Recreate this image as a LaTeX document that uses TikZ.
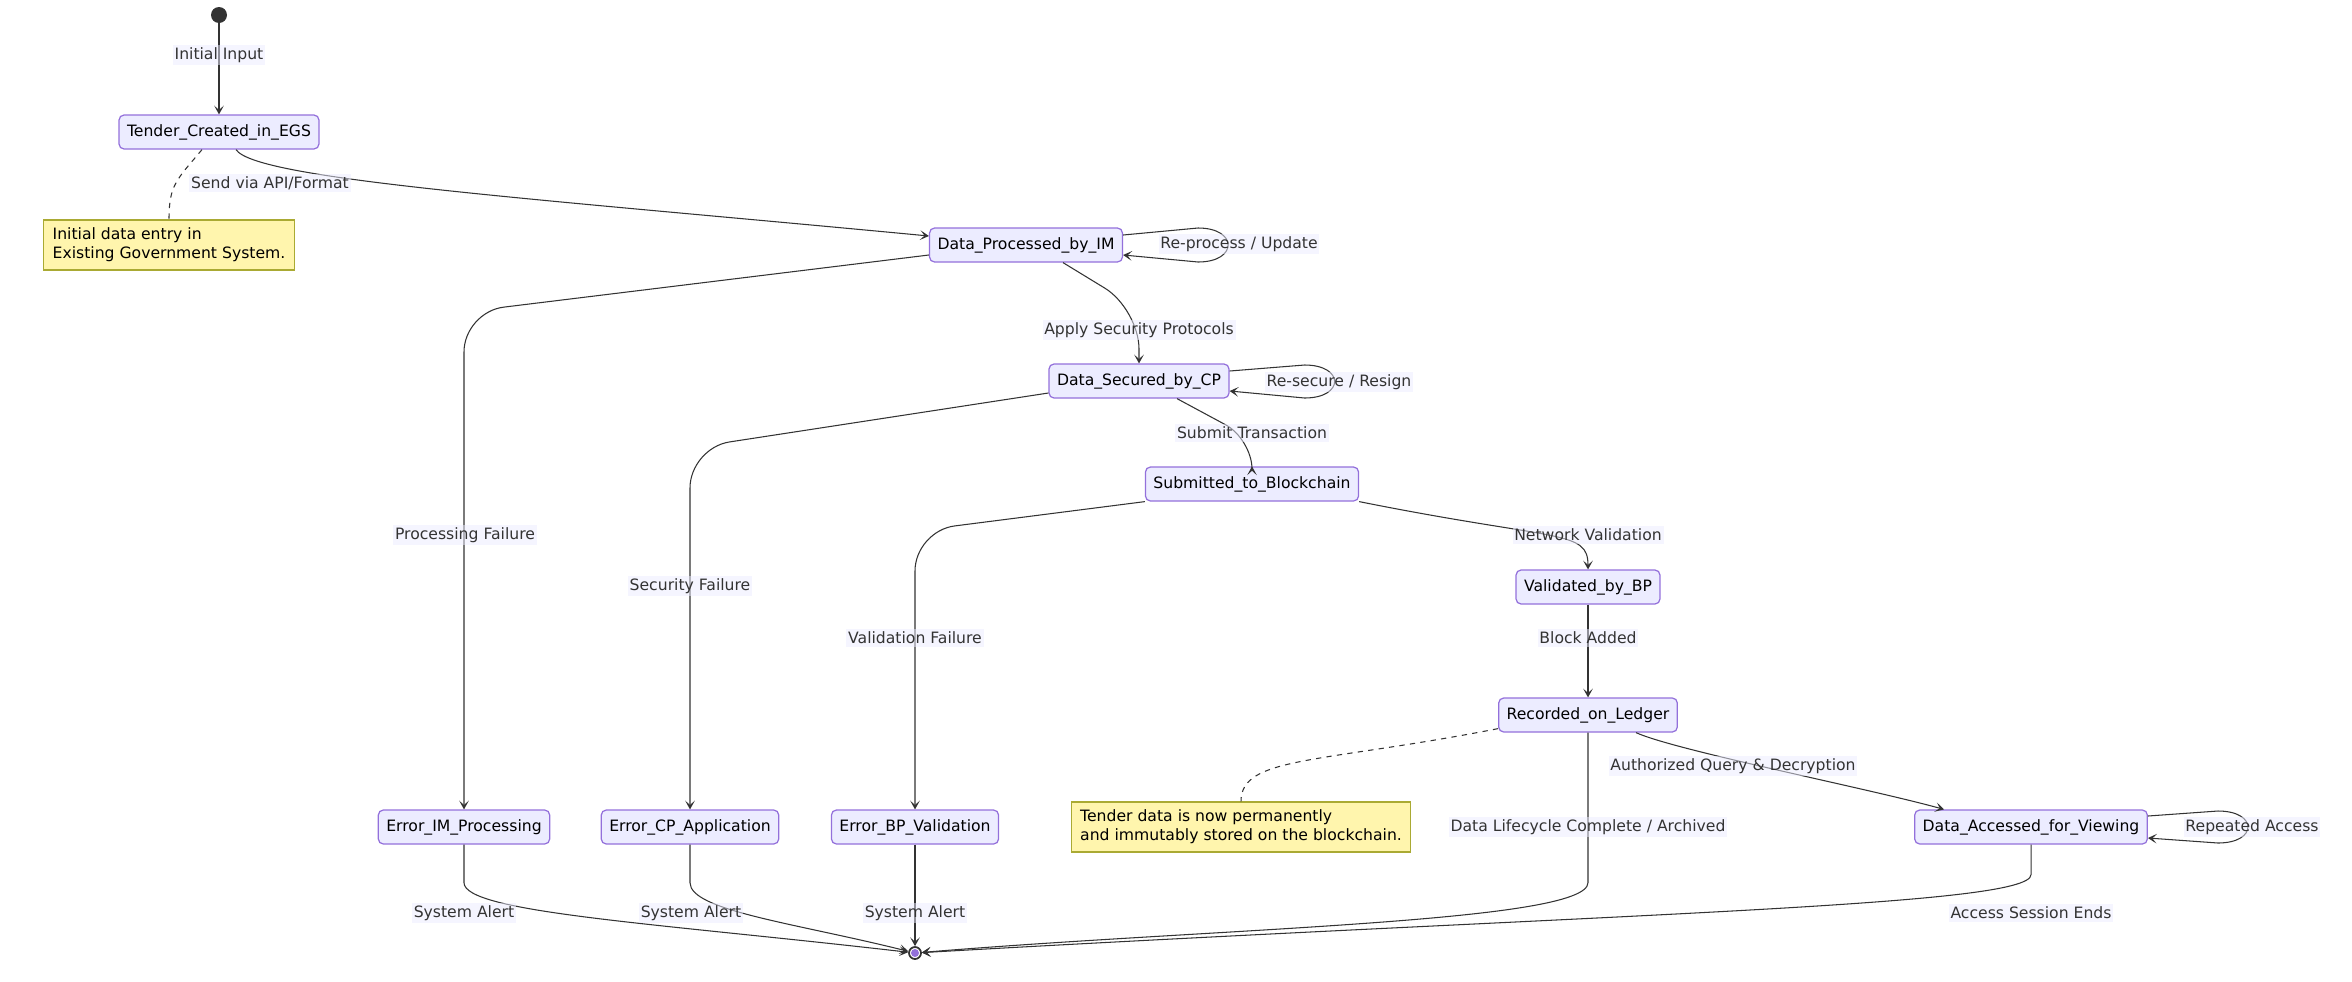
\documentclass[tikz,border=0pt]{standalone}
\usepackage{fontspec}
\setmainfont{DejaVu Sans}
\usepackage{tikz}
\usetikzlibrary{arrows.meta}

\definecolor{stfill}{HTML}{ECECFF}
\definecolor{stline}{HTML}{9370DB}
\definecolor{notefill}{HTML}{FFF5AD}
\definecolor{noteline}{HTML}{AAAA33}
\definecolor{edgecol}{HTML}{333333}

\begin{document}
\begin{tikzpicture}[x=0.02cm, y=-0.02cm, font=\fontsize{8.9}{10.8}\selectfont,
    state/.style={draw=stline, fill=stfill, line width=0.7pt, rounded corners=0.1cm, inner xsep=0.16cm, inner ysep=0pt, minimum height=0.68cm, text=black},
    note/.style={draw=noteline, fill=notefill, line width=0.7pt, align=left, inner xsep=0.18cm, inner ysep=0.16cm, text=black},
    lbl/.style={fill=stfill, fill opacity=0.5, text opacity=1, text=edgecol, inner xsep=1pt, inner ysep=1.5pt},
    edge/.style={draw=edgecol, line width=0.6pt, -{Stealth[length=5pt,width=5.5pt,inset=2.5pt]}},
    link/.style={draw=edgecol, line width=0.6pt, dash pattern=on 3pt off 3pt}]
    \useasboundingbox (0,0) rectangle (2352,981);
    % states
    \node (start) [circle, fill=edgecol, minimum size=0.32cm, inner sep=0pt] at (219,15) {};
    \node (tender) [state] at (219,132) {Tender\_Created\_in\_EGS};
    \node (dpim) [state] at (1026,245) {Data\_Processed\_by\_IM};
    \node (dscp) [state] at (1139,381) {Data\_Secured\_by\_CP};
    \node (stb) [state] at (1252,484) {Submitted\_to\_Blockchain};
    \node (vbp) [state] at (1588,587) {Validated\_by\_BP};
    \node (rol) [state] at (1588,715) {Recorded\_on\_Ledger};
    \node (dav) [state] at (2031,827) {Data\_Accessed\_for\_Viewing};
    \node (errim) [state] at (464,827) {Error\_IM\_Processing};
    \node (errcp) [state] at (690,827) {Error\_CP\_Application};
    \node (errbp) [state] at (915,827) {Error\_BP\_Validation};
    \node (endst) [circle, draw=edgecol, line width=1pt, fill=white, minimum size=0.24cm, inner sep=0pt] at (915,953) {};
    \fill[stline] (endst) circle (0.08cm);
    % notes
    \node (note1) [note] at (169,245) {Initial data entry in\\Existing Government System.};
    \node (note2) [note] at (1241,827) {Tender data is now permanently\\and immutably stored on the blockchain.};
    \draw[link] ([xshift=-0.34cm]tender.south) .. controls +(-25,30) and +(0,-35) .. (note1.north);
    \draw[link] ([yshift=0.08cm]rol.south west) .. controls +(-180,35) and +(0,-45) .. (note2.north);

    % transitions
    \draw[edge] (start) -- (tender);
    \draw[edge] ([xshift=0.34cm]tender.south) .. controls +(20,30) and +(-400,-38) .. ([yshift=0.18cm]dpim.west);
    \draw[edge] ([yshift=0.2cm]dpim.east) -- ++(75,-7) .. controls +(40,0) and +(40,0) .. ++(0,34) -- ([yshift=-0.2cm]dpim.east);
    \draw[edge, rounded corners=0.8cm] ([yshift=-0.2cm]dpim.west) -- (errim.north |- 0,312) -- (errim.north);
    \draw[edge, rounded corners=0.8cm] ([xshift=0.74cm]dpim.south) -- (dscp.north |- 0,309) -- (dscp.north);
    \draw[edge] ([yshift=0.2cm]dscp.east) -- ++(75,-6) .. controls +(40,0) and +(40,0) .. ++(0,33) -- ([yshift=-0.2cm]dscp.east);
    \draw[edge, rounded corners=0.8cm] ([yshift=-0.24cm]dscp.west) -- (errcp.north |- 0,448) -- (errcp.north);
    \draw[edge, rounded corners=0.6cm] ([xshift=0.76cm]dscp.south) -- (stb.north |- 0,439) -- (stb.north);
    \draw[edge, rounded corners=0.8cm] (stb.south west) -- (errbp.north |- 0,531) -- (errbp.north);
    \draw[edge] (stb.south east) .. controls +(200,40) and +(0,-40) .. (vbp.north);
    \draw[edge] (vbp) -- (rol);
    \draw[edge] ([xshift=0.96cm]rol.south) .. controls +(40,18) and +(-80,-22) .. ([xshift=-1.74cm]dav.north);
    \draw[edge] ([yshift=0.22cm]dav.east) -- ++(70,-5) .. controls +(40,0) and +(40,0) .. ++(0,32) -- ([yshift=-0.22cm]dav.east);
    \draw[edge] (rol.south) -- ++(0,150) .. controls +(0,40) and +(300,-25) .. (endst);
    \draw[edge] (dav.south) -- ++(0,30) .. controls +(0,32) and +(700,-40) .. (endst);
    \draw[edge] (errim.south) -- ++(0,38) .. controls +(0,30) and +(-260,-30) .. (endst);
    \draw[edge] (errcp.south) -- ++(0,38) .. controls +(0,28) and +(-120,-30) .. (endst);
    \draw[edge] (errbp) -- (endst);

    % labels
    \node (l1) [lbl] at (219,55) {Initial Input};
    \node (l2) [lbl] at (270,183) {Send via API/Format};
    \node (l3) [lbl] at (1239,244) {Re-process / Update};
    \node (l4) [lbl] at (465,535) {Processing Failure};
    \node (l5) [lbl] at (1139,330) {Apply Security Protocols};
    \node (l6) [lbl] at (1339,382) {Re-secure / Resign};
    \node (l7) [lbl] at (690,586) {Security Failure};
    \node (l8) [lbl] at (1252,433) {Submit Transaction};
    \node (l9) [lbl] at (915,638) {Validation Failure};
    \node (l10) [lbl] at (1588,535) {Network Validation};
    \node (l11) [lbl] at (1588,638) {Block Added};
    \node (l12) [lbl] at (1733,766) {Authorized Query \& Decryption};
    \node (l13) [lbl] at (1588,827) {Data Lifecycle Complete / Archived};
    \node (l14) [lbl] at (2252,827) {Repeated Access};
    \node (l15) [lbl] at (464,913) {System Alert};
    \node (l16) [lbl] at (691,913) {System Alert};
    \node (l17) [lbl] at (915,913) {System Alert};
    \node (l18) [lbl] at (2031,913) {Access Session Ends};
\end{tikzpicture}
\end{document}
